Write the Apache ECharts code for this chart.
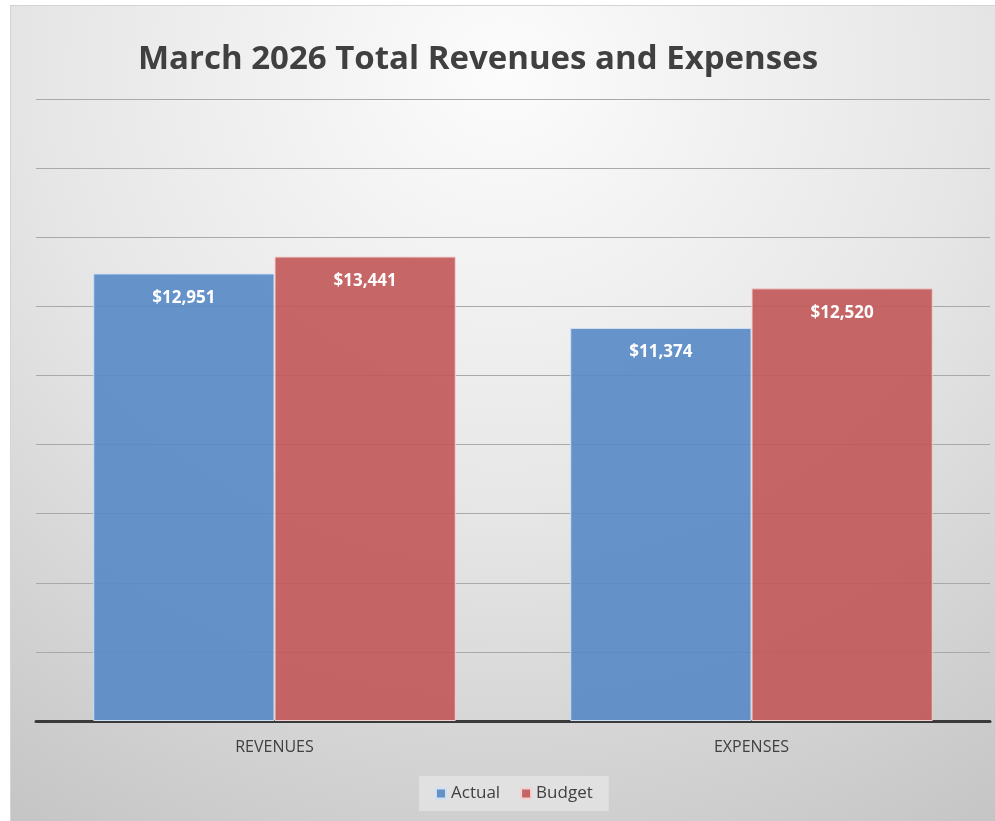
<!DOCTYPE html>
<html>
<head>
<meta charset="utf-8">
<script src="https://cdn.jsdelivr.net/npm/echarts@6/dist/echarts.min.js"></script>
<style>
  html, body { margin: 0; padding: 0; background: #fff; }
  #chart {
    position: absolute; left: 10px; top: 5px; width: 984px; height: 815px;
    border: 1px solid #d4d4d4; border-right: none; border-bottom: none;
    background: radial-gradient(ellipse 95% 110% at 50% 8%, #fcfcfc 0%, #e6e6e6 50%, #c4c4c4 100%);
  }
</style>
</head>
<body>
<div id="chart"></div>
<script>
// 类别 和 数值
var categories = ['REVENUES', 'EXPENSES'];
var actualValues = [12951, 11374];
var budgetValues = [13441, 12520];
var seriesNames = ['Actual', 'Budget'];

var myChart = echarts.init(document.getElementById('chart'));

function money(v) {
    return '$' + v.toLocaleString('en-US');
}

var labelStyle = {
    show: true,
    position: 'insideTop',
    distance: 16,
    color: '#fff',
    fontWeight: 'bold',
    fontSize: 17,
    fontFamily: 'Open Sans',
    formatter: function(p) { return money(p.value); }
};

var option = {
    backgroundColor: 'transparent',
    title: {
        text: 'March 2026 Total Revenues and Expenses',
        left: 462,
        textAlign: 'center',
        top: 32,
        textStyle: {
            color: '#404040',
            fontSize: 33,
            fontWeight: 'bold',
            fontFamily: 'Open Sans'
        }
    },
    legend: {
        data: seriesNames,
        bottom: 10,
        left: 408,
        icon: 'rect',
        itemWidth: 10,
        itemHeight: 10,
        itemGap: 20,
        padding: [9, 16],
        backgroundColor: 'rgba(235,235,235,0.6)',
        textStyle: { color: '#404040', fontSize: 17, fontFamily: 'Open Sans' }
    },
    grid: {
        left: 25,
        right: 5,
        top: 93,
        bottom: 100
    },
    xAxis: {
        type: 'category',
        data: categories,
        axisTick: { show: false },
        axisLine: { lineStyle: { color: '#3a3a3a', width: 3 } },
        axisLabel: { color: '#404040', fontSize: 16, margin: 18, fontFamily: 'Open Sans' }
    },
    yAxis: {
        type: 'value',
        min: 0,
        max: 18000,
        interval: 2000,
        axisLabel: { show: false },
        axisLine: { show: false },
        axisTick: { show: false },
        splitLine: { lineStyle: { color: '#a9a9a9', width: 1 } }
    },
    series: [
        {
            name: seriesNames[0],
            type: 'bar',
            data: actualValues,
            barWidth: '38%',
            barGap: 0,
            itemStyle: { color: 'rgba(86,136,196,0.9)', borderColor: '#cfe0f2', borderWidth: 1 },
            label: labelStyle
        },
        {
            name: seriesNames[1],
            type: 'bar',
            data: budgetValues,
            barWidth: '38%',
            itemStyle: { color: 'rgba(194,86,86,0.9)', borderColor: '#f2d2d2', borderWidth: 1 },
            label: labelStyle
        }
    ]
};

myChart.setOption(option);
</script>
</body>
</html>
